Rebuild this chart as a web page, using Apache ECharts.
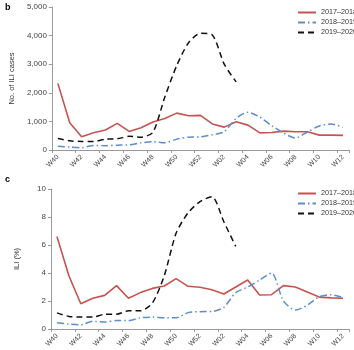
<!DOCTYPE html>
<html lang="en">
<head>
    <meta charset="utf-8">
    <title>ILI cases and ILI%</title>
    <script src="https://cdn.jsdelivr.net/npm/echarts@6/dist/echarts.min.js"></script>
    <style>
        html, body { margin: 0; padding: 0; background: #fff; }
        #main { width: 354px; height: 350px; }
    </style>
</head>
<body>
<div id="main"></div>
<script>
    // weeks W40..W52, W01..W12
    var weeks = ['W40', 'W41', 'W42', 'W43', 'W44', 'W45', 'W46', 'W47', 'W48', 'W49', 'W50', 'W51', 'W52',
        'W01', 'W02', 'W03', 'W04', 'W05', 'W06', 'W07', 'W08', 'W09', 'W10', 'W11', 'W12'];
    var seasons = ['2017–2018', '2018–2019', '2019–2020'];

    // panel b: number of ILI cases
    var cases1718 = [2330, 950, 460, 600, 700, 930, 650, 780, 980, 1100, 1290, 1200, 1210,
        910, 800, 990, 870, 600, 610, 660, 640, 640, 520, 520, 510];
    var cases1819 = [130, 100, 80, 160, 150, 170, 180, 250, 290, 250, 380, 450, 460,
        530, 640, 1110, 1320, 1150, 850, 590, 420, 630, 840, 910, 790];
    var cases1920 = [400, 320, 300, 300, 380, 390, 480, 450, 620, 1850, 2950, 3750, 4080,
        4020, 3000, 2380];

    // panel c: ILI (%)
    var ili1718 = [6.6, 3.8, 1.8, 2.2, 2.4, 3.1, 2.2, 2.6, 2.9, 3.07, 3.6, 3.05, 2.98,
        2.8, 2.5, 3.0, 3.5, 2.43, 2.45, 3.1, 3.0, 2.64, 2.28, 2.22, 2.2];
    var ili1819 = [0.45, 0.35, 0.3, 0.55, 0.5, 0.6, 0.6, 0.8, 0.85, 0.8, 0.8, 1.17, 1.24,
        1.25, 1.55, 2.6, 3.0, 3.5, 4.0, 2.0, 1.35, 1.7, 2.3, 2.45, 2.25];
    var ili1920 = [1.15, 0.9, 0.85, 0.85, 1.05, 1.05, 1.3, 1.3, 1.85, 3.8, 6.85, 8.3, 9.1,
        9.45, 7.66, 5.9];

    var font = 'Liberation Sans, Arial, sans-serif';
    var colors = ['#c55451', '#5b8dcf', '#111111'];
    var dashes = ['solid', [7, 3, 1.5, 3], [6, 4]];

    function xAxis(gi) {
        return {
            type: 'category',
            gridIndex: gi,
            data: weeks,
            boundaryGap: true,
            axisLine: { lineStyle: { color: '#999', width: 1 } },
            axisTick: { show: true, length: 3, lineStyle: { color: '#999' } },
            axisLabel: {
                interval: 1,
                rotate: 45,
                fontSize: 7,
                color: '#444',
                fontFamily: font,
                margin: 6
            }
        };
    }

    function yAxis(gi, max, interval, name, fmt) {
        return {
            type: 'value',
            gridIndex: gi,
            min: 0,
            max: max,
            interval: interval,
            name: name,
            nameLocation: 'middle',
            nameGap: 30,
            nameTextStyle: { fontSize: 7.5, color: '#333', fontFamily: font },
            splitLine: { show: false },
            axisLine: { show: true, lineStyle: { color: '#999', width: 1 } },
            axisTick: { show: true, length: 3, lineStyle: { color: '#999' } },
            axisLabel: { fontSize: 8, color: '#444', fontFamily: font, margin: 5, formatter: fmt }
        };
    }

    function line(name, data, idx, gi) {
        return {
            name: name,
            type: 'line',
            xAxisIndex: gi,
            yAxisIndex: gi,
            data: data,
            symbol: 'none',
            showSymbol: false,
            smooth: idx === 0 ? false : 0.25,
            lineStyle: { color: colors[idx], width: idx === 0 ? 1.6 : 1.5, type: dashes[idx] },
            itemStyle: { color: colors[idx] }
        };
    }

    function legend(top) {
        return {
            data: seasons,
            orient: 'vertical',
            left: 297,
            top: top,
            padding: 0,
            itemWidth: 18,
            itemHeight: 7,
            itemGap: 3,
            itemStyle: { opacity: 0 },
            textStyle: { fontSize: 7.2, color: '#333', fontFamily: font }
        };
    }

    var myChart = echarts.init(document.getElementById('main'));
    var option = {
        animation: false,
        backgroundColor: '#fff',
        grid: [
            { left: 51, right: 5, top: 7, height: 143 },
            { left: 51, right: 5, top: 189, height: 140 }
        ],
        legend: [legend(9), legend(190)],
        xAxis: [xAxis(0), xAxis(1)],
        yAxis: [
            yAxis(0, 5000, 1000, 'No. of ILI cases', function (v) { return v.toLocaleString('en-US'); }),
            yAxis(1, 10, 2, 'ILI (%)')
        ],
        graphic: [
            { type: 'text', left: 5, top: 3, style: { text: 'b', font: 'bold 9px ' + font, fill: '#000' } },
            { type: 'text', left: 5, top: 175, style: { text: 'c', font: 'bold 9px ' + font, fill: '#000' } }
        ],
        series: [
            line(seasons[0], cases1718, 0, 0),
            line(seasons[1], cases1819, 1, 0),
            line(seasons[2], cases1920, 2, 0),
            line(seasons[0], ili1718, 0, 1),
            line(seasons[1], ili1819, 1, 1),
            line(seasons[2], ili1920, 2, 1)
        ]
    };
    myChart.setOption(option);
</script>
</body>
</html>
